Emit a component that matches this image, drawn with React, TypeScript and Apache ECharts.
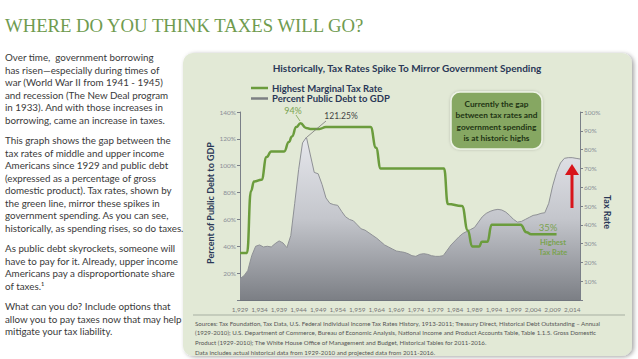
import React, { useEffect, useRef } from "react";
import * as echarts from "echarts";

const X_TICK_YEARS = [1929, 1934, 1939, 1944, 1949, 1954, 1959, 1964, 1969, 1974, 1979, 1984, 1989, 1994, 1999, 2004, 2009, 2014];

const DEBT_YEARS = [
  1929, 1930, 1931, 1932, 1933, 1934, 1935, 1936, 1937, 1938, 1939, 1940, 1941, 1942, 1943, 1944, 1945, 1946, 1947, 1948,
  1949, 1950, 1951, 1952, 1953, 1954, 1955, 1956, 1957, 1958, 1959, 1960, 1961, 1962, 1963, 1964, 1965, 1966, 1967, 1968,
  1969, 1970, 1971, 1972, 1973, 1974, 1975, 1976, 1977, 1978, 1979, 1980, 1981, 1982, 1983, 1984, 1985, 1986, 1987, 1988,
  1989, 1990, 1991, 1992, 1993, 1994, 1995, 1996, 1997, 1998, 1999, 2000, 2001, 2002, 2003, 2004, 2005, 2006, 2007, 2008,
  2009, 2010, 2011, 2012, 2013, 2014, 2015, 2016,
];
const DEBT_PCT = [
  16, 18, 22, 33, 40, 41, 39.5, 40, 39.5, 42, 44, 42.5, 39, 48, 72, 97, 117, 121.25, 108, 95,
  94, 86, 76, 72, 71, 70.5, 66, 62, 60, 59, 56, 53, 52, 50, 48, 46, 43.5, 41, 39.5, 38,
  36.5, 36, 35.5, 34.5, 33, 32.5, 34, 34.5, 34, 33, 32.5, 32.5, 33, 37, 41, 44, 47, 49.5, 51, 52.5,
  54, 58, 62, 64.5, 66, 67, 67.5, 67, 65.5, 63, 60, 58, 58.5, 60, 61.5, 63, 63.5, 64.5, 65, 72,
  85, 95, 102, 105.5, 106, 106, 105.5, 105,
];

const TAX_YEARS = [
  1929, 1930.8, 1931.8, 1932.6, 1934.5, 1935.8, 1937, 1940.3, 1941.5, 1942.3, 1943.4, 1944.5, 1945.9, 1947, 1949.3, 1951,
  1962.4, 1963.8, 1965, 1981.2, 1982.2, 1985.8, 1987.3, 1988.4, 1990.2, 1990.9, 1992.3, 1993.4, 2000.8, 2002.3, 2003.5, 2010,
];
const TAX_RATE = [
  25, 25, 58, 63, 64, 76, 79, 79, 84, 87, 92, 94, 91.5, 91, 91, 92,
  92, 81, 70, 70, 51, 50, 37, 28.5, 28.5, 31, 31, 40, 40, 36, 35, 35,
];

const PAGE_TITLE = "WHERE DO YOU THINK TAXES WILL GO?";
const CHART_TITLE = "Historically, Tax Rates Spike To Mirror Government Spending";
const LEGEND_TAX = "Highest Marginal Tax Rate";
const LEGEND_DEBT = "Percent Public Debt to GDP";
const LEFT_AXIS_TITLE = "Percent of Public Debt to GDP";
const RIGHT_AXIS_TITLE = "Tax Rate";
const CALLOUT_LINES = ["Currently the gap", "between tax rates and", "government spending", "is at historic highs"];

const BODY_PARAGRAPHS = [
  [
    "Over time,  government borrowing",
    "has risen\u2014especially during times of",
    "war (World War II from 1941 - 1945)",
    "and recession (The New Deal program",
    "in 1933). And with those increases in",
    "borrowing, came an increase in taxes.",
  ],
  [
    "This graph shows the gap between the",
    "tax rates of middle and upper income",
    "Americans since 1929 and public debt",
    "(expressed as a percentage of gross",
    "domestic product). Tax rates, shown by",
    "the green line, mirror these spikes in",
    "government spending. As you can see,",
    "historically, as spending rises, so do taxes.",
  ],
  [
    "As public debt skyrockets, someone will",
    "have to pay for it. Already, upper income",
    "Americans pay a disproportionate share",
    "of taxes.\u00b9",
  ],
  [
    "What can you do? Include options that",
    "allow you to pay taxes now that may help",
    "mitigate your tax liability.",
  ],
];

const SOURCE_LINES = [
  "Sources: Tax Foundation, Tax Data, U.S. Federal Individual Income Tax Rates History, 1913-2011; Treasury Direct, Historical Debt Outstanding \u2013 Annual",
  "(1929-2010); U.S. Department of Commerce, Bureau of Economic Analysis, National Income and Product Accounts Table, Table 1.1.5. Gross Domestic",
  "Product (1929-2010); The White House Office of Management and Budget, Historical Tables for 2011-2016.",
  "Data includes actual historical data from 1929-2010 and projected data from 2011-2016.",
];

const GREEN = "#6b9c3d";
const NAVY = "#2a3857";
const FONT = "Lato, 'Noto Sans', sans-serif";

function buildGraphics() {
  const els: any[] = [];
  els.push({
    type: "rect",
    z: -1,
    shape: { x: 183, y: 53, width: 449, height: 303, r: 10 },
    style: { fill: "#e2e9d6", shadowBlur: 4, shadowOffsetX: 2, shadowOffsetY: 1, shadowColor: "rgba(0,0,0,0.35)" },
  });
  els.push({
    type: "text",
    x: 5,
    y: 25,
    style: { text: PAGE_TITLE, font: "18.7px 'Liberation Serif', serif", fill: "#6f9b4f", textVerticalAlign: "middle" },
  });
  let y = 57;
  BODY_PARAGRAPHS.forEach((para, pi) => {
    if (pi > 0) y += 8;
    para.forEach((line) => {
      els.push({
        type: "text",
        x: 5,
        y,
        style: { text: line, font: `9.8px ${FONT}`, fill: "#3a3a3a", textVerticalAlign: "middle" },
      });
      y += 12.5;
    });
  });
  els.push({
    type: "text",
    x: 407,
    y: 68,
    style: { text: CHART_TITLE, font: `bold 10px ${FONT}`, fill: NAVY, textAlign: "center", textVerticalAlign: "middle" },
  });
  els.push({ type: "line", shape: { x1: 251, y1: 88, x2: 268, y2: 88 }, style: { stroke: GREEN, lineWidth: 2.5 } });
  els.push({ type: "line", shape: { x1: 251, y1: 98.5, x2: 268, y2: 98.5 }, style: { stroke: "#7d7f83", lineWidth: 2.5 } });
  els.push({
    type: "text",
    x: 272,
    y: 88,
    style: { text: LEGEND_TAX, font: `bold 9.5px ${FONT}`, fill: NAVY, textVerticalAlign: "middle" },
  });
  els.push({
    type: "text",
    x: 272,
    y: 98.5,
    style: { text: LEGEND_DEBT, font: `bold 9.5px ${FONT}`, fill: NAVY, textVerticalAlign: "middle" },
  });
  els.push({
    type: "text",
    x: 210,
    y: 203,
    rotation: Math.PI / 2,
    style: { text: LEFT_AXIS_TITLE, font: `bold 9px ${FONT}`, fill: NAVY, textAlign: "center", textVerticalAlign: "middle" },
  });
  els.push({
    type: "text",
    x: 607,
    y: 212,
    rotation: -Math.PI / 2,
    style: { text: RIGHT_AXIS_TITLE, font: `bold 9px ${FONT}`, fill: NAVY, textAlign: "center", textVerticalAlign: "middle" },
  });
  els.push({
    type: "rect",
    z: 50,
    shape: { x: 451, y: 92, width: 91, height: 57, r: 9 },
    style: { fill: "#86a762", stroke: "#eef3e6", lineWidth: 1.5, shadowBlur: 3, shadowColor: "rgba(0,0,0,0.2)" },
  });
  CALLOUT_LINES.forEach((t, i) => {
    els.push({
      type: "text",
      z: 51,
      x: 496.5,
      y: 104 + i * 11.3,
      style: { text: t, font: `bold 8.3px ${FONT}`, fill: "#1f3514", textAlign: "center", textVerticalAlign: "middle" },
    });
  });
  els.push({
    type: "text",
    z: 40,
    x: 293,
    y: 110,
    style: { text: "94%", font: `9px ${FONT}`, fill: "#7aa350", textAlign: "center", textVerticalAlign: "middle" },
  });
  els.push({ type: "line", z: 40, shape: { x1: 296, y1: 115, x2: 300, y2: 121 }, style: { stroke: "#7aa350", lineWidth: 0.8 } });
  els.push({
    type: "text",
    z: 40,
    x: 341,
    y: 116,
    style: { text: "121.25%", font: `8.5px ${FONT}`, fill: "#444", textAlign: "center", textVerticalAlign: "middle" },
  });
  els.push({ type: "line", z: 40, shape: { x1: 326, y1: 121, x2: 307, y2: 137 }, style: { stroke: "#777", lineWidth: 0.8 } });
  els.push({
    type: "text",
    z: 40,
    x: 548,
    y: 227,
    style: { text: "35%", font: `9.5px ${FONT}`, fill: "#7aa350", textAlign: "center", textVerticalAlign: "middle" },
  });
  els.push({
    type: "text",
    z: 40,
    x: 553,
    y: 242,
    style: { text: "Highest", font: `bold 7.5px ${FONT}`, fill: "#7aa350", textAlign: "center", textVerticalAlign: "middle" },
  });
  els.push({
    type: "text",
    z: 40,
    x: 553,
    y: 252,
    style: { text: "Tax Rate", font: `bold 7.5px ${FONT}`, fill: "#7aa350", textAlign: "center", textVerticalAlign: "middle" },
  });
  els.push({ type: "line", z: 60, shape: { x1: 572, y1: 208, x2: 572, y2: 172 }, style: { stroke: "#d8141b", lineWidth: 3 } });
  els.push({
    type: "polygon",
    z: 60,
    shape: { points: [[565, 175], [579, 175], [572, 164]] },
    style: { fill: "#d8141b" },
  });
  els.push({ type: "line", shape: { x1: 193, y1: 315, x2: 625, y2: 315 }, style: { stroke: "#a7afa2", lineWidth: 1 } });
  const srcY = [323, 332.5, 342, 352];
  SOURCE_LINES.forEach((t, i) => {
    els.push({
      type: "text",
      x: 195,
      y: srcY[i],
      style: { text: t, font: `6.15px ${FONT}`, fill: "#555", textVerticalAlign: "middle" },
    });
  });
  return els;
}

export default function App() {
  const ref = useRef<HTMLDivElement>(null);
  useEffect(() => {
    if (!ref.current) return;
    const chart = echarts.init(ref.current, null, { renderer: "svg" });
    const pct = (v: number) => (v === 0 ? "" : v + "%");
    chart.setOption({
      animation: false,
      backgroundColor: "#ffffff",
      grid: { left: 240, right: 58, top: 112, bottom: 59 },
      xAxis: {
        type: "value",
        min: 1929,
        max: 2016,
        splitLine: { show: false },
        axisLine: { lineStyle: { color: "#6f747c" } },
        axisTick: { show: true, inside: true, length: 3, customValues: X_TICK_YEARS, lineStyle: { color: "#555" } },
        axisLabel: { customValues: X_TICK_YEARS, fontSize: 6.5, color: "#777", fontFamily: FONT, margin: 6 },
      },
      yAxis: [
        {
          type: "value",
          min: 0,
          max: 140,
          interval: 20,
          splitLine: { show: false },
          axisLine: { show: true, lineStyle: { color: "#7a7f88" } },
          axisTick: { show: true, length: 3, lineStyle: { color: "#7a7f88" } },
          axisLabel: { formatter: pct, fontSize: 6.5, color: "#8a8f96", fontFamily: FONT, margin: 4 },
        },
        {
          type: "value",
          min: 0,
          max: 100,
          interval: 10,
          position: "right",
          splitLine: { show: false },
          axisLine: { show: true, lineStyle: { color: "#7a7f88" } },
          axisTick: { show: true, length: 3, lineStyle: { color: "#7a7f88" } },
          axisLabel: { formatter: pct, fontSize: 6.5, color: "#8a8f96", fontFamily: FONT, margin: 4 },
        },
      ],
      series: [
        {
          name: LEGEND_DEBT,
          type: "line",
          yAxisIndex: 0,
          symbol: "none",
          z: 2,
          data: DEBT_YEARS.map((yr, i) => [yr, DEBT_PCT[i]]),
          lineStyle: { color: "#8e9095", width: 1 },
          areaStyle: {
            color: new echarts.graphic.LinearGradient(0, 0, 0, 1, [
              { offset: 0, color: "#e6e7ec" },
              { offset: 0.5, color: "#c4c6cc" },
              { offset: 1, color: "#7c7f85" },
            ]),
            opacity: 1,
          },
        },
        {
          name: LEGEND_TAX,
          type: "line",
          yAxisIndex: 1,
          symbol: "none",
          smooth: 0.5,
          smoothMonotone: "x",
          z: 3,
          data: TAX_YEARS.map((yr, i) => [yr, TAX_RATE[i]]),
          lineStyle: { color: GREEN, width: 2.5 },
        },
      ],
      graphic: { elements: buildGraphics() },
    });
    return () => chart.dispose();
  }, []);
  return (
    <div
      ref={ref}
      style={{ position: "fixed", left: 0, top: 0, width: 638, height: 359, background: "#fff" }}
    />
  );
}
